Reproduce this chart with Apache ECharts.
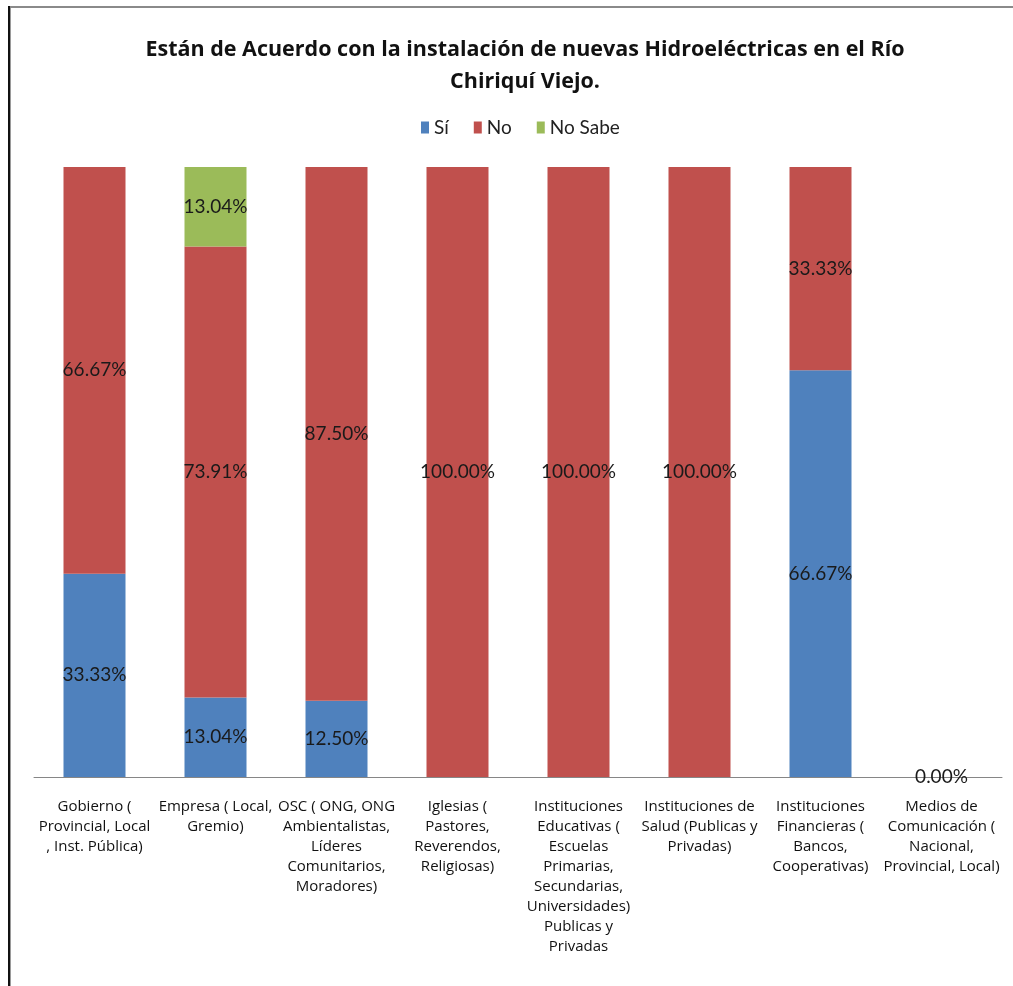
<!DOCTYPE html>
<html>
<head>
<meta charset="utf-8">
<script src="https://cdn.jsdelivr.net/npm/echarts@6/dist/echarts.min.js"></script>
<style>
  html, body { margin: 0; padding: 0; background: #fff; }
  #chart { width: 1013px; height: 986px; }
</style>
</head>
<body>
<div id="chart"></div>
<script>
const categories = [
  "Gobierno (\nProvincial, Local\n, Inst. Pública)",
  "Empresa ( Local,\nGremio)",
  "OSC ( ONG, ONG\nAmbientalistas,\nLíderes\nComunitarios,\nMoradores)",
  "Iglesias (\nPastores,\nReverendos,\nReligiosas)",
  "Instituciones\nEducativas (\nEscuelas\nPrimarias,\nSecundarias,\nUniversidades)\nPublicas y\nPrivadas",
  "Instituciones de\nSalud (Publicas y\nPrivadas)",
  "Instituciones\nFinancieras (\nBancos,\nCooperativas)",
  "Medios de\nComunicación (\nNacional,\nProvincial, Local)"
];
const seriesNames = ["Sí", "No", "No Sabe"];
const si      = [33.33, 13.04, 12.50, null, null, null, 66.67, 0];
const no      = [66.67, 73.91, 87.50, 100.00, 100.00, 100.00, 33.33, null];
const noSabe  = [null, 13.04, null, null, null, null, null, null];
const titleText = "Están de Acuerdo con la instalación de nuevas Hidroeléctricas en el Río\nChiriquí Viejo.";

const colors = ["#4F81BD", "#C0504D", "#9BBB59"];
const labelFont = "Lato, 'Open Sans', sans-serif";
const catFont = "'Open Sans', Lato, sans-serif";

function mkSeries(name, data, color) {
  return {
    name: name,
    type: "bar",
    stack: "total",
    data: data,
    barWidth: 62,
    itemStyle: { color: color },
    label: {
      show: true,
      position: "inside",
      color: "#1a1a1a",
      fontFamily: labelFont,
      fontSize: 19,
      formatter: p => (p.value == null ? "" : Number(p.value).toFixed(2) + "%")
    },
    emphasis: { disabled: true }
  };
}

const chart = echarts.init(document.getElementById("chart"), null, { renderer: "canvas" });
chart.setOption({
  animation: false,
  backgroundColor: "#ffffff",
  color: colors,
  title: {
    text: titleText,
    left: 520,
    textAlign: "center",
    top: 29,
    textStyle: {
      fontFamily: catFont,
      fontWeight: "bold",
      fontSize: 21.5,
      lineHeight: 32,
      color: "#111"
    }
  },
  legend: {
    data: seriesNames,
    top: 113,
    left: 416,
    itemWidth: 8,
    itemHeight: 12,
    itemGap: 25,
    icon: "rect",
    textStyle: { fontFamily: labelFont, fontSize: 19, color: "#222" }
  },
  grid: { left: 34, right: 11, top: 167, bottom: 209, containLabel: false },
  xAxis: {
    type: "category",
    data: categories,
    axisLine: { lineStyle: { color: "#868686", width: 1 } },
    axisTick: { show: false },
    axisLabel: {
      interval: 0,
      margin: 20,
      fontFamily: catFont,
      fontSize: 15,
      lineHeight: 20,
      color: "#111",
      align: "center"
    }
  },
  yAxis: {
    type: "value",
    min: 0,
    max: 100,
    show: false,
    splitLine: { show: false }
  },
  graphic: [
    { type: "rect", shape: { x: 8, y: 6, width: 1005, height: 2 }, style: { fill: "#8a8a8a" }, silent: true },
    { type: "rect", shape: { x: 8, y: 6, width: 2, height: 980 }, style: { fill: "#111" }, silent: true },
    { type: "rect", shape: { x: 10, y: 8, width: 1, height: 978 }, style: { fill: "#9a9a9a" }, silent: true }
  ],
  series: [
    mkSeries(seriesNames[0], si, colors[0]),
    mkSeries(seriesNames[1], no, colors[1]),
    mkSeries(seriesNames[2], noSabe, colors[2])
  ]
});
</script>
</body>
</html>
